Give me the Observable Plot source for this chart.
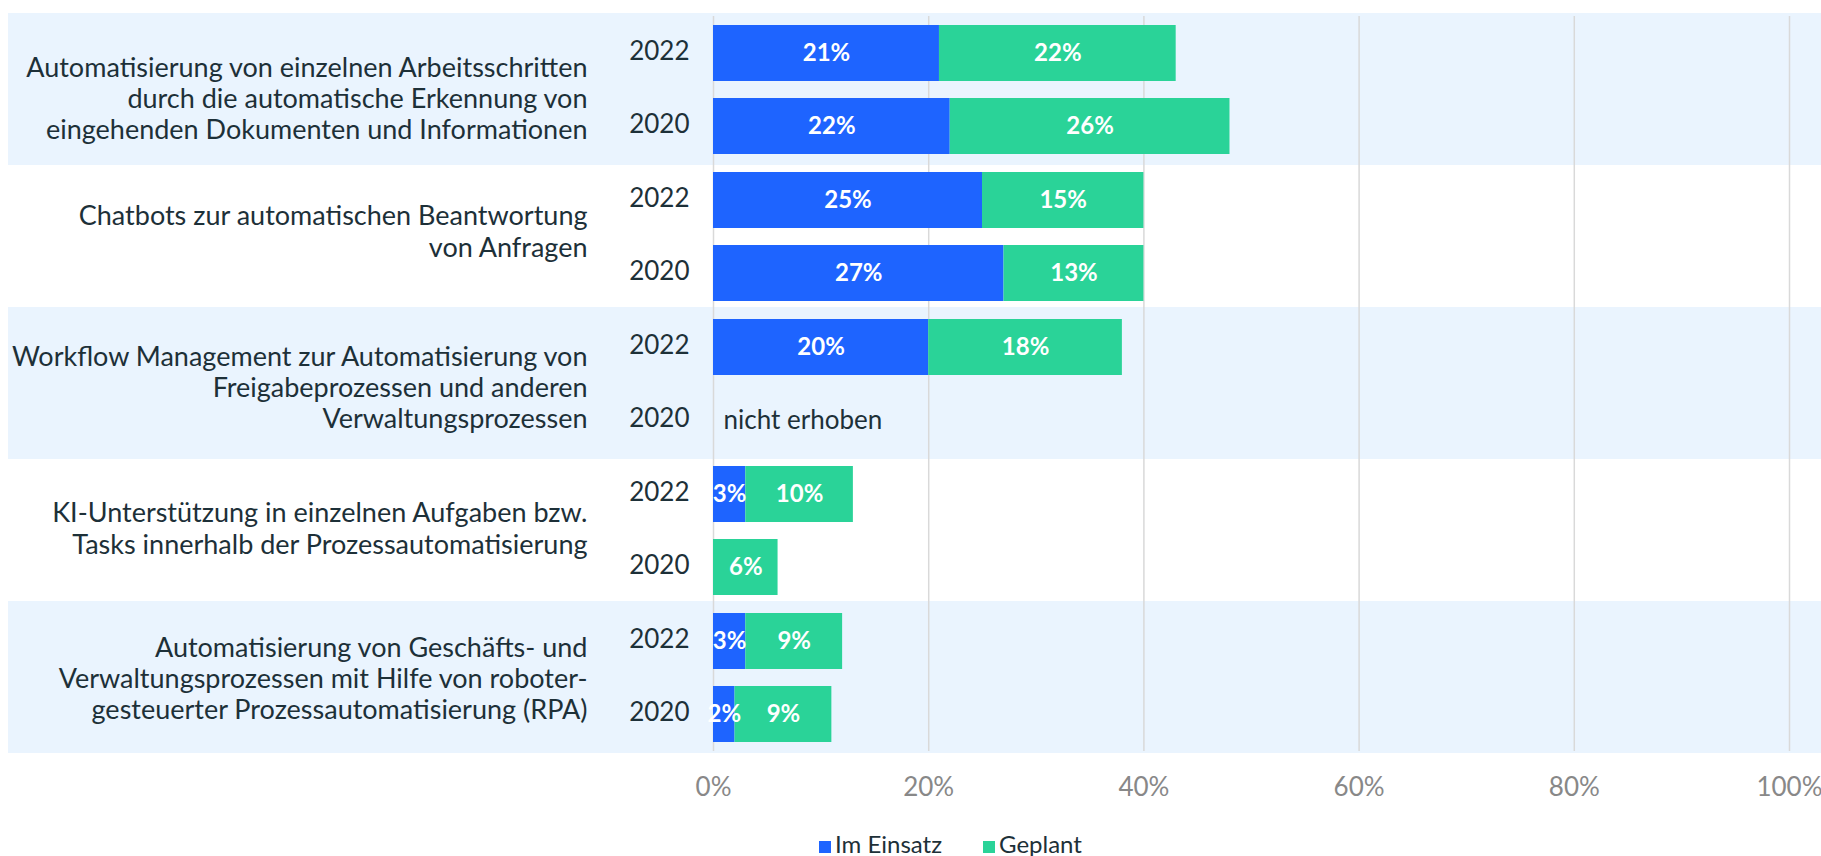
<!DOCTYPE html>
<html>
<head>
<meta charset="utf-8">
<script src="https://cdn.jsdelivr.net/npm/d3@7"></script>
<script src="https://cdn.jsdelivr.net/npm/@observablehq/plot@0.6"></script>
<style>
  html, body { margin: 0; padding: 0; background: #ffffff; overflow: hidden; }
  #chart svg { display: block; }
  .legend { display: flex; margin-left: 819px; margin-top: 18px; font: 24px Lato, sans-serif; color: #1d3038; line-height: 28px; }
  .legend .item { margin-right: 41px; white-space: nowrap; }
  .legend .sw { display: inline-block; width: 12px; height: 12px; margin-right: 4px; vertical-align: baseline; }
</style>
</head>
<body>
<div id="chart"></div>
<script>
const categories = [
  "Automatisierung von einzelnen Arbeitsschritten\ndurch die automatische Erkennung von\neingehenden Dokumenten und Informationen",
  "Chatbots zur automatischen Beantwortung\nvon Anfragen",
  "Workflow Management zur Automatisierung von\nFreigabeprozessen und anderen\nVerwaltungsprozessen",
  "KI-Unterstützung in einzelnen Aufgaben bzw.\nTasks innerhalb der Prozessautomatisierung",
  "Automatisierung von Geschäfts- und\nVerwaltungsprozessen mit Hilfe von roboter-\ngesteuerter Prozessautomatisierung (RPA)"
];
const years = ["2022", "2020"];
const seriesNames = ["Im Einsatz", "Geplant"];
const seriesColors = ["#1e64ff", "#2ad398"];
const imEinsatz2022 = [21, 25, 20, 3, 3];
const imEinsatz2020 = [22, 27, null, 0, 2];
const geplant2022 = [22, 15, 18, 10, 9];
const geplant2020 = [26, 13, null, 6, 9];
const highlightedCategories = [categories[0], categories[2], categories[4]];
const notes = [{cat: categories[2], year: "2020", value: 0, label: "nicht erhoben"}];
const xTicks = [0, 20, 40, 60, 80, 100];

const rows = [];
categories.forEach((cat, i) => {
  [["2022", imEinsatz2022[i], geplant2022[i]], ["2020", imEinsatz2020[i], geplant2020[i]]].forEach(([year, a, b]) => {
    if (a != null) rows.push({cat, year, series: seriesNames[0], value: a});
    if (b != null) rows.push({cat, year, series: seriesNames[1], value: b});
  });
});

const textColor = "#1d3038";
const catText = {fy: d => d, text: d => d, frameAnchor: "left", dx: -126, textAnchor: "end", lineAnchor: "middle", fontSize: 27, lineHeight: 1.163, fill: textColor};

const chart = Plot.plot({
  width: 1821,
  height: 812,
  marginLeft: 713,
  marginRight: 32,
  marginTop: 14,
  marginBottom: 60,
  style: {fontFamily: "Lato, sans-serif", background: "transparent", overflow: "visible"},
  x: {type: "linear", domain: [0, 100], axis: null},
  y: {domain: years, paddingInner: 0.23, paddingOuter: 0.115, axis: null},
  fy: {domain: categories, padding: 0, axis: null},
  color: {domain: seriesNames, range: seriesColors},
  marks: [
    Plot.rect(highlightedCategories, {fy: d => d, fill: "#eaf4fe", insetLeft: -705, insetRight: -32, insetTop: -3, insetBottom: -2}),
    Plot.gridX(xTicks, {stroke: "#d9d9d9", strokeOpacity: 1, strokeWidth: 1.5}),
    Plot.barX(rows, Plot.stackX({x: "value", y: "year", fy: "cat", z: "series", fill: "series"})),
    Plot.text(rows.filter(d => d.value > 0), Plot.stackX({x: "value", y: "year", fy: "cat", z: "series", text: d => d.value + "%", fill: "white", fontWeight: "bold", fontSize: 24})),
    Plot.text(notes, {x: "value", y: "year", fy: "cat", text: "label", textAnchor: "start", dx: 10, fill: textColor, fontSize: 26}),
    Plot.axisX(xTicks, {anchor: "bottom", tickSize: 0, tickPadding: 26, tickFormat: d => d + "%", fontSize: 26, color: "#888888", label: null}),
    Plot.axisY({anchor: "left", tickSize: 0, tickPadding: 24, dy: -2, fontSize: 26, color: textColor, label: null}),
    Plot.text([categories[0]], {...catText, dy: 8}),
    Plot.text([categories[1]], {...catText, dy: -6}),
    Plot.text([categories[2]], {...catText, dy: 3}),
    Plot.text([categories[3]], {...catText, dy: -3}),
    Plot.text([categories[4]], catText)
  ]
});
document.getElementById("chart").appendChild(chart);

const legend = document.createElement("div");
legend.className = "legend";
seriesNames.forEach((name, i) => {
  const item = document.createElement("span");
  item.className = "item";
  const sw = document.createElement("span");
  sw.className = "sw";
  sw.style.background = seriesColors[i];
  item.appendChild(sw);
  item.appendChild(document.createTextNode(name));
  legend.appendChild(item);
});
document.body.appendChild(legend);
</script>
</body>
</html>
